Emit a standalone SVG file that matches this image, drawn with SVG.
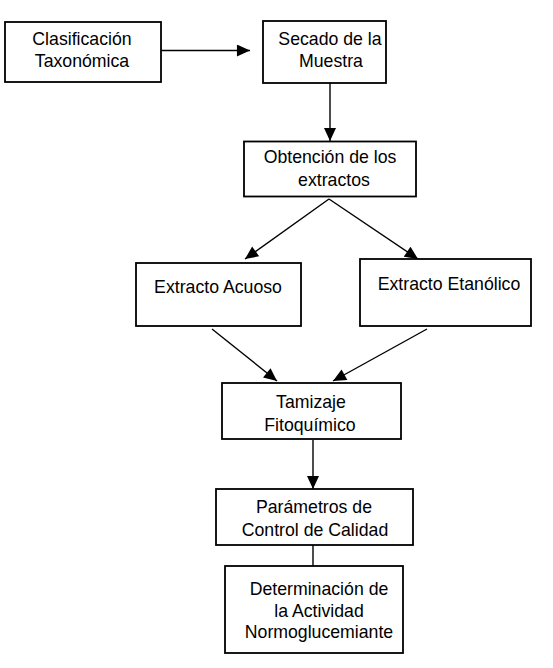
<svg xmlns="http://www.w3.org/2000/svg" width="553" height="668" viewBox="0 0 553 668">
<style>
.box{fill:#fff;stroke:#000;stroke-width:1.8}
.t{font-family:"Liberation Sans",Arial,sans-serif;font-size:17.7px;fill:#000;text-anchor:middle}
.c{stroke:#000;stroke-width:1.4;fill:none}
</style>
<defs>
<marker id="ah" markerUnits="userSpaceOnUse" markerWidth="14" markerHeight="12" refX="12" refY="5.5" orient="auto" viewBox="0 0 12 11">
<path d="M0,0 L12,5.5 L0,11 Z" fill="#000"/>
</marker>
</defs>
<rect width="553" height="668" fill="#fff"/>
<g id="connectors">
<line class="c" x1="161" y1="50.5" x2="250" y2="50.5" marker-end="url(#ah)"/>
<line class="c" x1="330" y1="83" x2="330" y2="141" marker-end="url(#ah)"/>
<line class="c" x1="329" y1="199" x2="245" y2="259" marker-end="url(#ah)"/>
<line class="c" x1="329" y1="199" x2="418" y2="259" marker-end="url(#ah)"/>
<line class="c" x1="212" y1="329" x2="277" y2="381" marker-end="url(#ah)"/>
<line class="c" x1="427" y1="329" x2="333" y2="381" marker-end="url(#ah)"/>
<line class="c" x1="313" y1="440" x2="313" y2="489" marker-end="url(#ah)"/>
<line class="c" x1="313" y1="545" x2="313" y2="566"/>
</g>
<g id="n1"><rect class="box" x="5" y="22" width="156" height="60"/><text class="t" x="82" y="45">Clasificación</text><text class="t" x="82" y="67">Taxonómica</text></g>
<g id="n2"><rect class="box" x="263" y="21" width="123" height="62"/><text class="t" x="330" y="45">Secado de la</text><text class="t" x="331" y="67">Muestra</text></g>
<g id="n3"><rect class="box" x="244" y="141.5" width="172" height="55"/><text class="t" x="330" y="163">Obtención de los</text><text class="t" x="334" y="186">extractos</text></g>
<g id="n4"><rect class="box" x="136" y="263" width="165" height="63"/><text class="t" x="218" y="293">Extracto Acuoso</text></g>
<g id="n5"><rect class="box" x="360" y="259" width="171" height="67"/><text class="t" x="449" y="290">Extracto Etanólico</text></g>
<g id="n6"><rect class="box" x="222" y="383" width="179" height="56"/><text class="t" x="311" y="408">Tamizaje</text><text class="t" x="310" y="431">Fitoquímico</text></g>
<g id="n7"><rect class="box" x="216" y="489" width="197" height="56"/><text class="t" x="314" y="513">Parámetros de</text><text class="t" x="315" y="536">Control de Calidad</text></g>
<g id="n8"><rect class="box" x="225" y="566" width="178" height="87"/><text class="t" x="319" y="595">Determinación de</text><text class="t" x="319" y="617">la Actividad</text><text class="t" x="319" y="638">Normoglucemiante</text></g>
</svg>
